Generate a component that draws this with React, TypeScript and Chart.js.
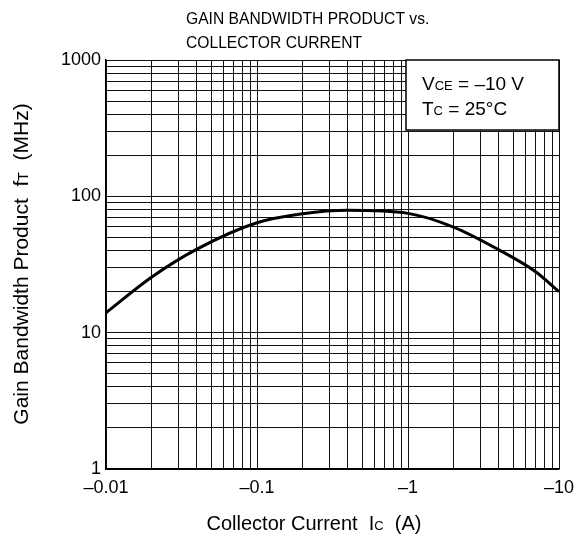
import React, { useEffect, useRef } from 'react';
import { Chart, registerables } from 'chart.js';

Chart.register(...registerables);

// Collector current magnitude (A) and gain bandwidth product fT (MHz)
const currentA = [0.01, 0.02, 0.04, 0.1, 0.2, 0.4, 1, 2, 4, 7, 10];
const ftMHz = [14, 25.5, 41, 64, 74.5, 79, 75, 59.5, 40.5, 28, 20];

const xMajor = [0.01, 0.1, 1, 10];
const xMajorLabels = ['\u20130.01', '\u20130.1', '\u20131', '\u201310'];
const yMajor = [1, 10, 100, 1000];
const yMajorLabels = ['1', '10', '100', '1000'];

const titleLines = ['GAIN BANDWIDTH PRODUCT vs.', 'COLLECTOR CURRENT'];
const FONT = '"Liberation Sans", Arial, sans-serif';

type Seg = { t: string; s: number };
const xTitle: Seg[] = [
  { t: 'Collector Current  I', s: 20 },
  { t: 'C', s: 13 },
  { t: '  (A)', s: 20 },
];
const yTitle: Seg[] = [
  { t: 'Gain Bandwidth Product  f', s: 21 },
  { t: 'T', s: 14 },
  { t: '  (MHz)', s: 21 },
];
const noteLine1: Seg[] = [
  { t: 'V', s: 19 },
  { t: 'CE', s: 13 },
  { t: ' = \u201310 V', s: 19 },
];
const noteLine2: Seg[] = [
  { t: 'T', s: 19 },
  { t: 'C', s: 13 },
  { t: ' = 25\u00B0C', s: 19 },
];

function gridValues(majors: number[]): number[] {
  const out: number[] = [];
  for (let i = 0; i < majors.length - 1; i++) {
    for (let m = 1; m <= 9; m++) out.push(majors[i] * m);
  }
  out.push(majors[majors.length - 1]);
  return out;
}

function labelFor(value: number, majors: number[], labels: string[]): string {
  for (let i = 0; i < majors.length; i++) {
    if (Math.abs(value - majors[i]) < majors[i] * 1e-6) return labels[i];
  }
  return '';
}

function segWidth(ctx: CanvasRenderingContext2D, segs: Seg[]) {
  let w = 0;
  for (const g of segs) {
    ctx.font = `${g.s}px ${FONT}`;
    w += ctx.measureText(g.t).width;
  }
  return w;
}

function drawRich(ctx: CanvasRenderingContext2D, segs: Seg[], x: number, y: number, align: 'left' | 'center') {
  const w = segWidth(ctx, segs);
  let cx = align === 'center' ? x - w / 2 : x;
  ctx.textAlign = 'left';
  ctx.textBaseline = 'alphabetic';
  for (const g of segs) {
    ctx.font = `${g.s}px ${FONT}`;
    ctx.fillText(g.t, cx, y);
    cx += ctx.measureText(g.t).width;
  }
}

const decorPlugin = {
  id: 'decor',
  beforeDatasetsDraw(chart: any) {
    const { ctx, chartArea } = chart;
    const bw = 153;
    const bh = 70;
    const bx = chartArea.right - bw;
    const by = chartArea.top;
    ctx.save();
    ctx.fillStyle = '#fff';
    ctx.fillRect(bx, by, bw, bh);
    ctx.strokeStyle = '#000';
    ctx.lineWidth = 1.5;
    ctx.strokeRect(bx, by, bw, bh);
    ctx.fillStyle = '#000';
    drawRich(ctx, noteLine1, bx + 16, by + 30, 'left');
    drawRich(ctx, noteLine2, bx + 16, by + 55, 'left');
    ctx.restore();
  },
  afterDraw(chart: any) {
    const { ctx } = chart;
    ctx.save();
    ctx.fillStyle = '#000';
    ctx.font = `17px ${FONT}`;
    ctx.textAlign = 'left';
    ctx.textBaseline = 'alphabetic';
    ctx.save();
    ctx.translate(186, 0);
    ctx.scale(0.92, 1);
    ctx.fillText(titleLines[0], 0, 24);
    ctx.fillText(titleLines[1], 0, 48);
    ctx.restore();
    drawRich(ctx, xTitle, 314, 530, 'center');
    ctx.translate(28, 264);
    ctx.rotate(-Math.PI / 2);
    drawRich(ctx, yTitle, 0, 0, 'center');
    ctx.restore();
  },
};

export default function App() {
  const ref = useRef<HTMLCanvasElement | null>(null);
  useEffect(() => {
    if (!ref.current) return;
    const xGrid = gridValues(xMajor);
    const yGrid = gridValues(yMajor);
    const chart = new Chart(ref.current, {
      type: 'line',
      data: {
        datasets: [
          {
            data: currentA.map((x, i) => ({ x, y: ftMHz[i] })),
            borderColor: '#000',
            borderWidth: 3,
            pointRadius: 0,
            cubicInterpolationMode: 'monotone',
            fill: false,
          },
        ],
      },
      options: {
        animation: false,
        responsive: false,
        devicePixelRatio: 1,
        layout: { padding: { top: 60, right: 25, left: 0, bottom: 0 } },
        plugins: { legend: { display: false }, tooltip: { enabled: false }, title: { display: false } },
        scales: {
          x: {
            type: 'logarithmic',
            min: 0.01,
            max: 10,
            afterBuildTicks: (scale: any) => {
              scale.ticks = xGrid.map((v) => ({ value: v }));
            },
            afterFit: (scale: any) => {
              scale.height = 71;
            },
            grid: { color: '#111', lineWidth: 1, drawTicks: false },
            border: { display: true, color: '#000', width: 1.5 },
            ticks: {
              autoSkip: false,
              maxRotation: 0,
              padding: 8,
              color: '#000',
              font: { family: FONT, size: 18 },
              callback: (v: any) => labelFor(Number(v), xMajor, xMajorLabels),
            },
          },
          y: {
            type: 'logarithmic',
            min: 1,
            max: 1000,
            afterBuildTicks: (scale: any) => {
              scale.ticks = yGrid.map((v) => ({ value: v }));
            },
            afterFit: (scale: any) => {
              scale.width = 106;
            },
            grid: { color: '#111', lineWidth: 1, drawTicks: false },
            border: { display: true, color: '#000', width: 1.5 },
            ticks: {
              autoSkip: false,
              padding: 5,
              color: '#000',
              font: { family: FONT, size: 18 },
              callback: (v: any) => labelFor(Number(v), yMajor, yMajorLabels),
            },
          },
        },
      },
      plugins: [decorPlugin],
    } as any);
    return () => chart.destroy();
  }, []);
  return (
    <div style={{ position: 'absolute', left: 0, top: 0, width: 584, height: 540, background: '#fff' }}>
      <canvas ref={ref} width={584} height={540} style={{ width: 584, height: 540 }} />
    </div>
  );
}
